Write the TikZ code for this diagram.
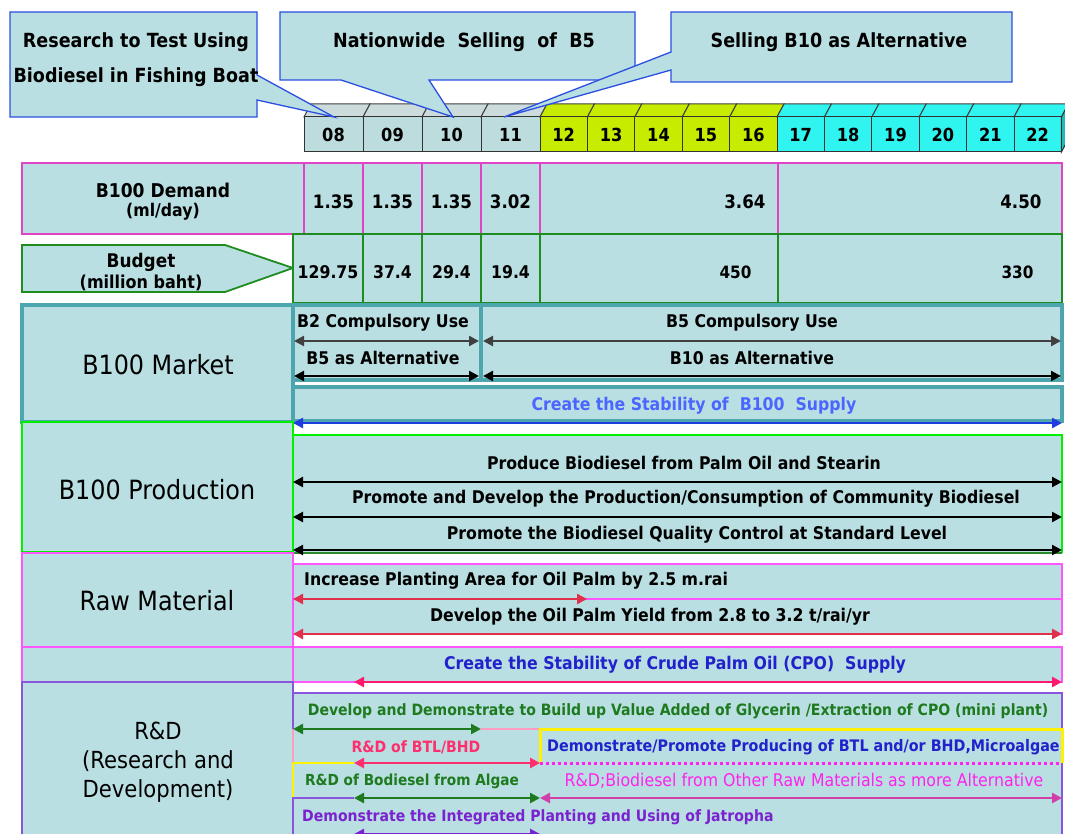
\documentclass[tikz,border=0pt]{standalone}
\usepackage{fontspec}
\setmainfont{DejaVu Sans}[FakeStretch=0.9]
\usepackage{tikz}
\usetikzlibrary{arrows.meta,positioning}

\definecolor{cellbg}{HTML}{BADFE2}
\definecolor{calloutblue}{HTML}{2B4FE0}
\definecolor{hdrgray}{HTML}{BCDCDE}
\definecolor{hdrtop}{HTML}{CCDCDC}
\definecolor{hdrlime}{HTML}{C8EC00}
\definecolor{hdrcyan}{HTML}{30F4F0}
\definecolor{demandpink}{HTML}{E044C4}
\definecolor{budgetgreen}{HTML}{1F8C1F}
\definecolor{marketteal}{HTML}{4DA6AE}
\definecolor{prodgreen}{HTML}{00F000}
\definecolor{prodgreendk}{HTML}{2A8A2A}
\definecolor{rawpink}{HTML}{FF55FF}
\definecolor{rawred}{HTML}{E0304C}
\definecolor{cpoblue}{HTML}{2222CC}
\definecolor{cpopink}{HTML}{FF1A6E}
\definecolor{rdpurple}{HTML}{8A55DD}
\definecolor{rdgreen}{HTML}{1E7A1E}
\definecolor{btlpink}{HTML}{FF2E6E}
\definecolor{btlline}{HTML}{FF9CC0}
\definecolor{algaeyellow}{HTML}{FFF200}
\definecolor{othermagenta}{HTML}{FF22EE}
\definecolor{otherarrow}{HTML}{D040A8}
\definecolor{jatropha}{HTML}{7A22D0}
\definecolor{b100blue}{HTML}{4A66FF}
\definecolor{arrowblue}{HTML}{1E3CE0}

\newcommand{\fs}[1]{\fontsize{#1}{#1}\selectfont}

\tikzset{
  calloutbox/.style={draw=calloutblue, fill=cellbg, line width=1.3pt},
  yeartext/.style={font=\bfseries\fs{18}, inner sep=0pt},
  cellline/.style={line width=1.8pt, fill=cellbg},
  plan/.style={{Triangle[length=10pt,width=10pt]}-{Triangle[length=10pt,width=10pt]}, line width=2.2pt},
  tl/.style={font=\bfseries\fs{17.5}, inner sep=0pt},
  tlsmall/.style={font=\bfseries\fs{15.6}, inner sep=0pt},
  sectionlabel/.style={font=\fs{26.5}, inner sep=0pt},
}

\begin{document}
\begin{tikzpicture}[x=1pt, y=-1pt]
\useasboundingbox[fill=white] (0,0) rectangle (1065,834);

% year header
\foreach \yr/\xa/\xb in {08/304/363, 09/363/422, 10/422/481, 11/481/540} {
  \filldraw[fill=hdrtop, draw=black!75, line width=1pt] (\xa,117) -- ++(7,-13) -- ({\xb+7},104) -- (\xb,117) -- cycle;
  \filldraw[fill=hdrgray, draw=black!80, line width=1pt] (\xa,117) rectangle (\xb,152);
  \node[yeartext] (y\yr) at ({(\xa+\xb)/2},135) {\yr};
}
\foreach \yr [evaluate=\yr as \xa using 540+47.4*(\yr-12)] in {12,...,22} {
  \ifnum\yr<17 \def\hcol{hdrlime}\else\def\hcol{hdrcyan}\fi
  \filldraw[fill=\hcol, draw=black!75, line width=1pt] (\xa,117) -- ++(7,-13) -- ++(47.4,0) -- ++(-7,13) -- cycle;
  \filldraw[fill=\hcol, draw=black!80, line width=1pt] (\xa,117) rectangle ++(47.4,35);
  \node[yeartext] (y\yr) at ({\xa+23.7},135) {\yr};
}
\filldraw[fill=hdrcyan!75!black, draw=black!80, line width=1pt] (1061.4,117) -- ++(7,-13) -- ++(0,35) -- ++(-7,13) -- cycle;

% callouts
\filldraw[calloutbox] (10,12) -- (257,12) -- (257,75) -- (334,117) -- (257,100) -- (257,117) -- (10,117) -- cycle;
\node[font=\bfseries\fontsize{19.5}{35}\selectfont, align=center] (testboat) at (136,60) {Research to Test Using\\Biodiesel in Fishing Boat};
\filldraw[calloutbox] (280,12) -- (635,12) -- (635,80) -- (429,80) -- (453,117) -- (341,80) -- (280,80) -- cycle;
\node[font=\bfseries\fs{19.5}] (nationwide) at (464,42) {Nationwide\ \ Selling\ \ of\ \ B5};
\filldraw[calloutbox] (671,12) -- (1012,12) -- (1012,82) -- (671,82) -- (671,70) -- (504,117) -- (671,52) -- cycle;
\node[font=\bfseries\fs{19.5}] (sellb10) at (839,42) {Selling B10 as Alternative};

% demand
\filldraw[cellline, draw=demandpink] (22,163) rectangle (304,234);
\node[font=\bfseries\fs{19}] (demandlbl) at (163,190) {B100 Demand};
\node[font=\bfseries\fs{17.5}] (demandunit) at (163,212) {(ml/day)};
\foreach \xa/\xb/\v [count=\i] in {304/363/1.35, 363/422/1.35, 422/481/1.35, 481/540/3.02} {
  \filldraw[cellline, draw=demandpink] (\xa,163) rectangle (\xb,234);
  \node[font=\bfseries\fs{18.5}] (dem\i) at ({(\xa+\xb)/2},202) {\v};
}
\filldraw[cellline, draw=demandpink] (540,163) rectangle (778,234);
\filldraw[cellline, draw=demandpink] (778,163) rectangle (1062,234);
\node[font=\bfseries\fs{18.5}, anchor=east] (dem5) at (769,202) {3.64};
\node[font=\bfseries\fs{18.5}, anchor=east] (dem6) at (1045,202) {4.50};

% budget
\filldraw[cellline, draw=budgetgreen] (22,245) -- (225,245) -- (293,268) -- (225,292) -- (22,292) -- cycle;
\node[font=\bfseries\fs{18.8}] (budgetlbl) at (141,262) {Budget};
\node[font=\bfseries\fs{17.8}] (budgetunit) at (141,283) {(million baht)};
\foreach \xa/\xb/\v [count=\i] in {293/363/129.75, 363/422/37.4, 422/481/29.4, 481/540/19.4} {
  \filldraw[cellline, draw=budgetgreen] (\xa,234) rectangle (\xb,303);
  \node[font=\bfseries\fs{17.5}] (bud\i) at ({(\xa+\xb)/2},272) {\v};
}
\filldraw[cellline, draw=budgetgreen] (540,234) rectangle (778,303);
\filldraw[cellline, draw=budgetgreen] (778,234) rectangle (1062,303);
\node[font=\bfseries\fs{17}, anchor=east] (bud5) at (755,272) {450};
\node[font=\bfseries\fs{17}, anchor=east] (bud6) at (1037,272) {330};

% B100 market
\filldraw[fill=cellbg, draw=marketteal, line width=4pt] (22,305) rectangle (293,422);
\node[sectionlabel] (market) at (158,365) {B100 Market};
\filldraw[fill=cellbg, draw=marketteal, line width=4pt] (293,305) rectangle (1062,380);
\draw[marketteal, line width=4pt] (481,305) -- (481,380);
\node[tl] (b2use) at (383,323) {B2 Compulsory Use};
\node[tl] (b5alt) at (383,358) {B5 as Alternative};
\node[tl] (b5use) at (752,323) {B5 Compulsory Use};
\node[tl] (b10alt) at (752,358) {B10 as Alternative};
\draw[plan, black!75] (294,341) -- (479,341);
\draw[plan, black] (294,376) -- (479,376);
\draw[plan, black!75] (483,341) -- (1061,341);
\draw[plan, black] (483,376) -- (1061,376);
\filldraw[fill=cellbg, draw=marketteal, line width=4pt] (293,387) rectangle (1062,421);
\node[tl, text=b100blue] (b100supply) at (694,406) {Create the Stability of\ \ B100\ \ Supply};
\draw[plan, arrowblue, line width=2.8pt] (293,423) -- (1062,423);

% B100 production
\filldraw[fill=cellbg, draw=prodgreen, line width=2.5pt] (22,422) rectangle (293,552);
\node[sectionlabel] (production) at (157,490) {B100 Production};
\fill[cellbg] (293,435) rectangle (1062,553);
\draw[prodgreen, line width=2.5pt] (293,553) -- (293,435) -- (1062,435) -- (1062,553);
\draw[prodgreendk, line width=2.5pt] (293,553) -- (1062,553);
\node[tl] (palmoil) at (684,463) {Produce Biodiesel from Palm Oil and Stearin};
\node[tl] (community) at (686,499) {Promote and Develop the Production/Consumption of Community Biodiesel};
\node[tl] (quality) at (697,535) {Promote the Biodiesel Quality Control at Standard Level};
\draw[plan] (293,482) -- (1062,482);
\draw[plan] (293,517) -- (1062,517);
\draw[plan] (293,550) -- (1062,550);

% raw material
\filldraw[fill=cellbg, draw=rawpink, line width=2pt] (22,553) rectangle (293,647);
\node[sectionlabel] (rawmat) at (157,601) {Raw Material};
\filldraw[fill=cellbg, draw=rawpink, line width=1.5pt] (293,564) rectangle (1062,599);
\filldraw[fill=cellbg, draw=rawpink, line width=1.5pt] (293,599) rectangle (1062,634);
\node[tl, anchor=west] (plantarea) at (304,581) {Increase Planting Area for Oil Palm by 2.5 m.rai};
\node[tl] (palmyield) at (650,617) {Develop the Oil Palm Yield from 2.8 to 3.2 t/rai/yr};
\draw[plan, rawred, line width=2.8pt] (293,599) -- (587,599);
\draw[plan, rawred, line width=2.8pt] (293,634) -- (1062,634);

% CPO supply
\filldraw[fill=cellbg, draw=rawpink, line width=2pt] (22,647) rectangle (293,682);
\filldraw[fill=cellbg, draw=rawpink, line width=2pt] (293,647) rectangle (1062,682);
\node[tl, text=cpoblue] (cposupply) at (675,665) {Create the Stability of Crude Palm Oil (CPO)\ \ Supply};
\draw[plan, cpopink, line width=2.8pt] (354,682) -- (1062,682);

% R&D
\filldraw[fill=cellbg, draw=rdpurple, line width=2pt] (22,682) rectangle (293,840);
\node[sectionlabel, font=\fontsize{23.5}{29}\selectfont, align=center] (rnd) at (158,762) {R\&D\\(Research and\\Development)};
\fill[cellbg] (293,693) rectangle (1062,840);
\draw[rdpurple, line width=1.5pt] (293,729) -- (293,693) -- (1062,693) -- (1062,840);
\draw[btlline, line width=2.5pt] (293,729) -- (293,763) (481,729) -- (540,729);
\draw[algaeyellow, line width=2.5pt] (293,798) -- (293,763) -- (354,763);
\draw[rdpurple, line width=1.5pt] (293,840) -- (293,798) -- (354,798);
\draw[algaeyellow, line width=3pt] (540,763) -- (540,729) -- (1062,729) -- (1062,763);
\draw[othermagenta, line width=3pt, dash pattern=on 3pt off 3pt] (540,763) -- (1062,763);
\node[tlsmall, text=rdgreen] (glycerin) at (678,711) {Develop and Demonstrate to Build up Value Added of Glycerin /Extraction of CPO (mini plant)};
\node[tlsmall, text=btlpink] (btlbhd) at (416,747) {R\&D of BTL/BHD};
\node[tlsmall, font=\bfseries\fs{15.9}, text=cpoblue, anchor=west] (microalgae) at (547,747) {Demonstrate/Promote Producing of BTL and/or BHD,Microalgae};
\node[tlsmall, font=\bfseries\fs{15.2}, text=rdgreen] (algae) at (412,781) {R\&D of Bodiesel from Algae};
\node[inner sep=0pt, font=\fs{17.5}, text=othermagenta] (otherraw) at (804,781) {R\&D;Biodiesel from Other Raw Materials as more Alternative};
\node[tlsmall, text=jatropha, anchor=west] (jatropha) at (302,817) {Demonstrate the Integrated Planting and Using of Jatropha};
\draw[plan, rdgreen, line width=2.8pt] (293,729) -- (481,729);
\draw[plan, btlpink, line width=2.8pt] (354,763) -- (540,763);
\draw[plan, rdgreen, line width=2.8pt] (354,798) -- (540,798);
\draw[plan, otherarrow, line width=2.8pt] (540,798) -- (1062,798);
\draw[plan, jatropha, line width=2.8pt] (354,834) -- (540,834);
\end{tikzpicture}
\end{document}
